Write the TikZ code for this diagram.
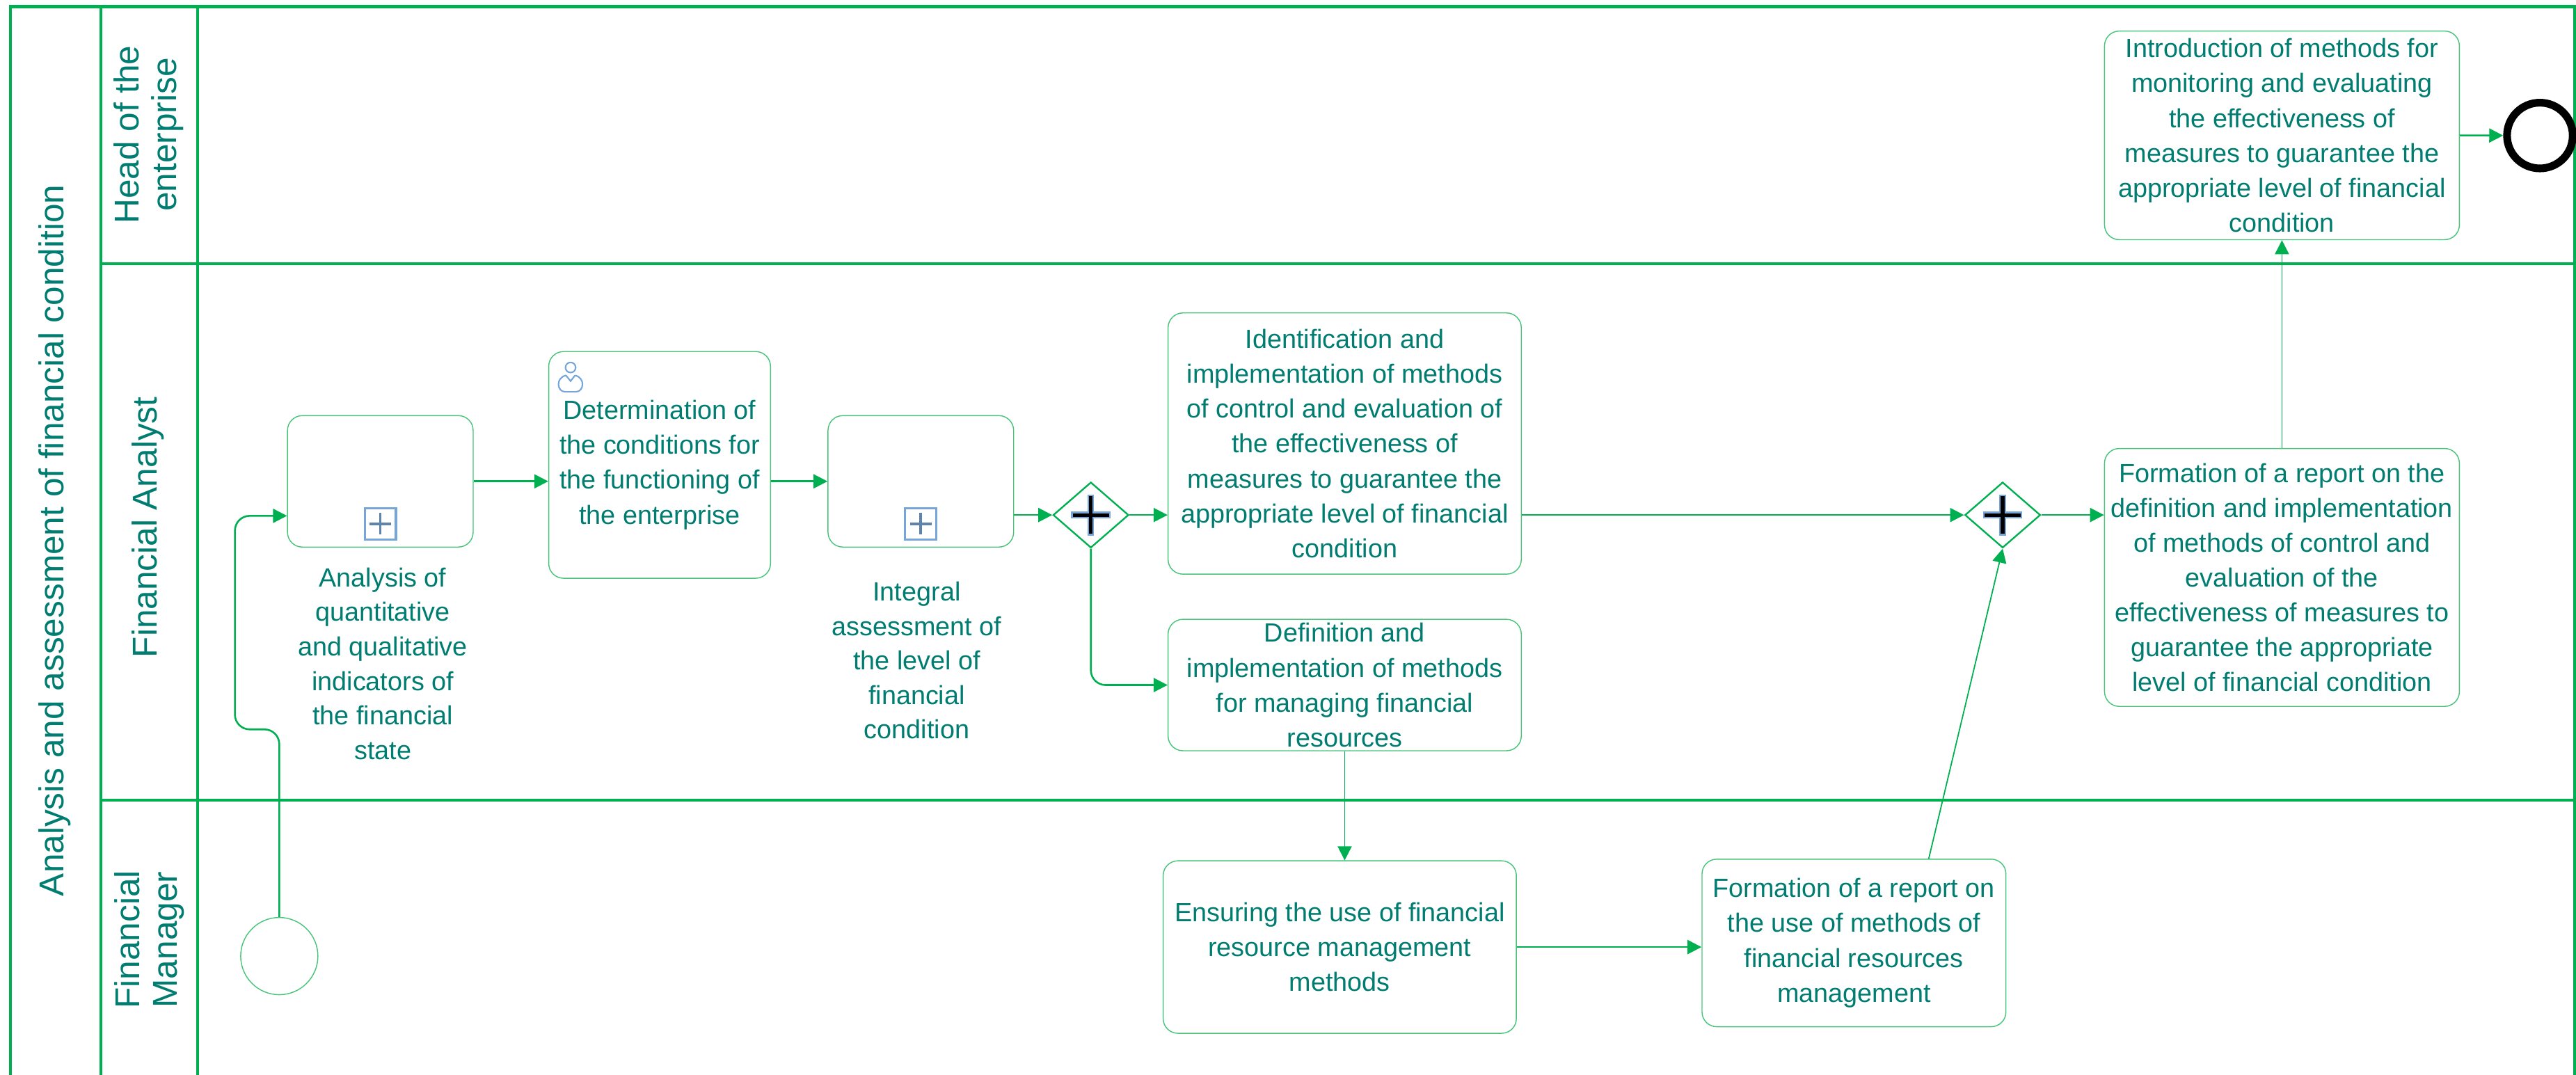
\documentclass[tikz,border=0pt]{standalone}
\usepackage{fontspec}
\setmainfont{Liberation Sans}
\usetikzlibrary{arrows.meta,shapes.geometric,positioning}

\definecolor{lanegreen}{RGB}{0,176,80}
\definecolor{boxgreen}{RGB}{70,196,122}
\definecolor{textteal}{RGB}{0,125,112}
\definecolor{iconblue}{RGB}{118,165,216}

% plus sign of a parallel gateway
\newcommand\gateplus[1]{%
  \draw[line width=4pt, iconblue] (#1.center) ++(-12,0) -- ++(24,0)
    (#1.center) ++(0,-12.5) -- ++(0,25);
  \draw[line width=2.2pt, black] (#1.center) ++(-11,0) -- ++(22,0)
    (#1.center) ++(0,-11.5) -- ++(0,23);}

\begin{document}
\begin{tikzpicture}[x=1pt,y=-1pt,
    every node/.style={text=textteal, font=\fontsize{16}{21.2}\selectfont},
    lane/.style={draw=lanegreen, line width=1.8pt},
    lanelabel/.style={rotate=90, align=center, font=\fontsize{21}{23}\selectfont},
    task/.style={draw=boxgreen, line width=0.6pt, rounded corners=9pt,
      align=center, inner sep=0pt},
    subproc/.style={task, minimum width=113pt, minimum height=80pt},
    sublabel/.style={align=center, font=\fontsize{16}{21}\selectfont},
    submark/.style={draw=iconblue, line width=1.3pt, minimum size=19pt, inner sep=0pt},
    gateway/.style={diamond, draw=lanegreen, line width=1pt, inner sep=0pt,
      minimum width=46pt, minimum height=40pt},
    flow/.style={draw=lanegreen, line width=1.1pt, -{Triangle[length=8.5pt,width=8.5pt]}},
    thinflow/.style={flow, line width=0.75pt},
  ]
  \clip (0,0) rectangle (1568,654);

  % pool and lanes
  \draw[lane] (6.5,700) -- (6.5,4) -- (1567,4) -- (1567,700);
  \draw[lane] (61.4,4) -- (61.4,700);
  \draw[lane] (120.3,4) -- (120.3,700);
  \draw[lane] (61.4,160.5) -- (1567,160.5);
  \draw[lane] (61.4,487) -- (1567,487);

  \node[lanelabel] (pool) at (33.5,329) {Analysis and assessment of financial condition};
  \node[lanelabel] (head) at (90.5,82) {Head of the\\enterprise};
  \node[lanelabel] (analyst) at (90,321) {Financial Analyst};
  \node[lanelabel] (manager) at (91,572) {Financial\\Manager};

  % events
  \node[circle, draw=boxgreen, line width=0.6pt, minimum size=47pt] (start) at (170,582) {};
  \node[circle, draw=black, line width=4.7pt, minimum size=40pt] (end) at (1546,82.5) {};

  % financial analyst
  \node[subproc] (A) at (231.5,293) {};
  \node[submark] (Amark) at ([yshift=14.5pt]A.south) {};
  \draw[iconblue!80!black, line width=1.6pt] (Amark.center) ++(-6.5,0) -- ++(13,0)
    (Amark.center) ++(0,-6.5) -- ++(0,13);
  \node[sublabel] (Alabel) at (233,404) {Analysis of\\quantitative\\and qualitative\\indicators of\\the financial\\state};

  \node[task, minimum width=135pt, minimum height=138pt] (B) at (401.5,283)
    {Determination of\\the conditions for\\the functioning of\\the enterprise};
  \draw[iconblue, line width=0.9pt] (347.3,223.7) circle[radius=3.1];
  \draw[iconblue, line width=0.9pt] (344.5,228.5) .. controls (338,230) and (339,238.5) .. (344,238.5)
    -- (350.5,238.5) .. controls (355.5,238.5) and (356.5,230) .. (350,228.5)
    (344.5,228.5) -- (347.3,232) -- (350,228.5);

  \node[subproc] (C) at (560.5,293) {};
  \node[submark] (Cmark) at ([yshift=14.5pt]C.south) {};
  \draw[iconblue!80!black, line width=1.6pt] (Cmark.center) ++(-6.5,0) -- ++(13,0)
    (Cmark.center) ++(0,-6.5) -- ++(0,13);
  \node[sublabel] (Clabel) at (558,402) {Integral\\assessment of\\the level of\\financial\\condition};

  \node[gateway] (G1) at (664,313.5) {};
  \gateplus{G1}

  \node[task, minimum width=215pt, minimum height=159pt] (D) at (818.5,270)
    {Identification and\\implementation of methods\\of control and evaluation of\\the effectiveness of\\measures to guarantee the\\appropriate level of financial\\condition};
  \node[task, minimum width=215pt, minimum height=80pt] (E) at (818.5,417)
    {Definition and\\implementation of methods\\for managing financial\\resources};

  \node[gateway] (G2) at (1219,313.5) {};
  \gateplus{G2}

  \node[task, minimum width=216pt, minimum height=157pt] (I) at (1389,351.5)
    {Formation of a report on the\\definition and implementation\\of methods of control and\\evaluation of the\\effectiveness of measures to\\guarantee the appropriate\\level of financial condition};

  % head of the enterprise
  \node[task, minimum width=216pt, minimum height=127pt] (J) at (1389,82.4)
    {Introduction of methods for\\monitoring and evaluating\\the effectiveness of\\measures to guarantee the\\appropriate level of financial\\condition};

  % financial manager
  \node[task, minimum width=215pt, minimum height=105pt] (F) at (815.5,576.5)
    {Ensuring the use of financial\\resource management\\methods};
  \node[task, minimum width=185pt, minimum height=102pt] (H) at (1128.5,574)
    {Formation of a report on\\the use of methods of\\financial resources\\management};

  % sequence flows
  \coordinate (bend) at (143,444);
  \draw[flow, rounded corners=9pt] (start.north) |- (bend) |- ([yshift=-21pt]A.west);
  \draw[flow] (A.east) -- (A.east -| B.west);
  \draw[flow] (C.west -| B.east) -- (C.west);
  \draw[flow] (C.east |- G1.west) -- (G1.west);
  \draw[flow] (G1.east) -- (G1.east -| D.west);
  \draw[flow, rounded corners=9pt] (G1.south) |- (E.west);
  \draw[flow] (D.east |- G2.west) -- (G2.west);
  \draw[thinflow] (E.south) -- (E.south |- F.north);
  \draw[flow] (F.east) -- (F.east -| H.west);
  \draw[thinflow] ([xshift=45.5pt]H.north) -- (G2.south);
  \draw[flow] (G2.east) -- (G2.east -| I.west);
  \draw[thinflow] (I.north) -- (J.south);
  \draw[flow] (J.east) -- (end.west);
\end{tikzpicture}
\end{document}
